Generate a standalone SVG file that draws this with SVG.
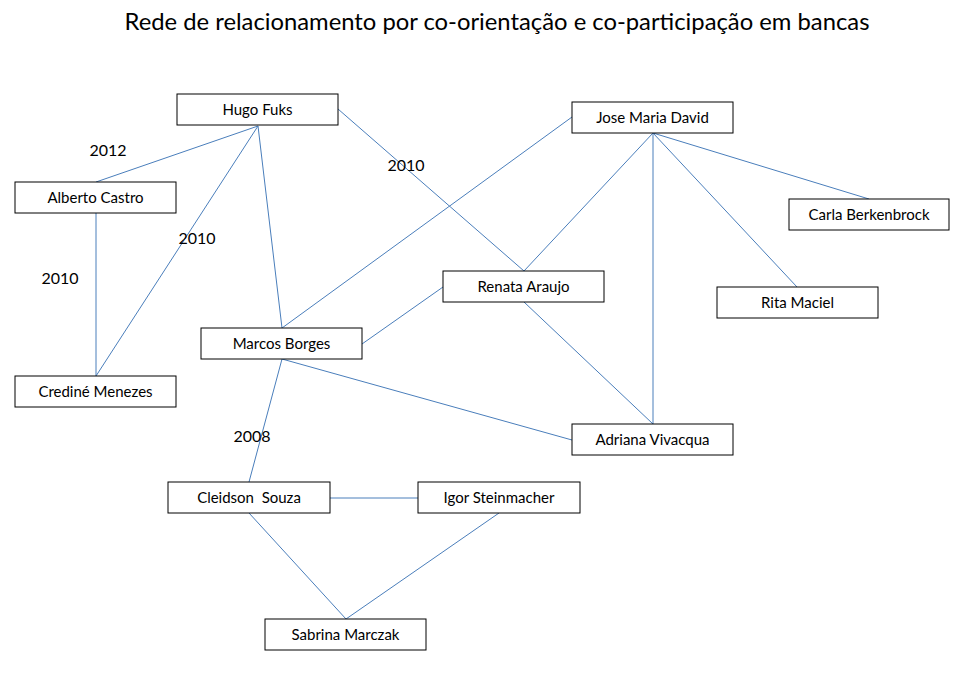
<svg xmlns="http://www.w3.org/2000/svg" width="977" height="681" viewBox="0 0 977 681">
<style>
.box{fill:#fff;stroke:#000;stroke-width:1}
.lbl{font-family:Lato,"Open Sans","Liberation Sans",sans-serif;font-size:15px;fill:#000;text-anchor:middle}
.yr{font-family:Lato,"Open Sans","Liberation Sans",sans-serif;font-size:16px;fill:#000;text-anchor:middle}
.title{font-family:Lato,"Open Sans","Liberation Sans",sans-serif;font-size:23.8px;fill:#000;text-anchor:middle}
#edges line{stroke:#4A7EBB;stroke-width:1}
</style>
<rect width="977" height="681" fill="#fff"/>
<text class="title" x="497" y="30">Rede de relacionamento por co-orientação e co-participação em bancas</text>
<g id="edges">
<line x1="258" y1="126" x2="96" y2="182"/>
<line x1="258" y1="126" x2="96" y2="376"/>
<line x1="258" y1="126" x2="282" y2="328"/>
<line x1="96" y1="213" x2="96" y2="376"/>
<line x1="338" y1="109" x2="524" y2="271"/>
<line x1="572" y1="117" x2="282" y2="328"/>
<line x1="653" y1="133" x2="524" y2="271"/>
<line x1="653" y1="133" x2="653" y2="424"/>
<line x1="653" y1="133" x2="869" y2="199"/>
<line x1="653" y1="133" x2="797" y2="287"/>
<line x1="443" y1="287" x2="362" y2="344"/>
<line x1="524" y1="302" x2="653" y2="424"/>
<line x1="282" y1="359" x2="572" y2="440"/>
<line x1="282" y1="359" x2="249" y2="482"/>
<line x1="329" y1="498" x2="418" y2="498"/>
<line x1="249" y1="513" x2="346" y2="619"/>
<line x1="499" y1="513" x2="346" y2="619"/>
</g>
<g id="years">
<text class="yr" x="108" y="156">2012</text>
<text class="yr" x="60" y="284">2010</text>
<text class="yr" x="197" y="244">2010</text>
<text class="yr" x="406" y="171">2010</text>
<text class="yr" x="252" y="442">2008</text>
</g>
<g id="hugo"><rect class="box" x="177" y="94" width="161" height="31"/><text class="lbl" x="257.5" y="115">Hugo Fuks</text></g>
<g id="alberto"><rect class="box" x="15" y="182" width="161" height="31"/><text class="lbl" x="95.5" y="203">Alberto Castro</text></g>
<g id="credine"><rect class="box" x="15" y="376" width="161" height="31"/><text class="lbl" x="95.5" y="397">Crediné Menezes</text></g>
<g id="marcos"><rect class="box" x="201" y="328" width="161" height="31"/><text class="lbl" x="281.5" y="349">Marcos Borges</text></g>
<g id="jose"><rect class="box" x="572" y="102" width="161" height="31"/><text class="lbl" x="652.5" y="123">Jose Maria David</text></g>
<g id="carla"><rect class="box" x="789" y="199" width="160" height="31"/><text class="lbl" x="869" y="220">Carla Berkenbrock</text></g>
<g id="rita"><rect class="box" x="717" y="287" width="161" height="31"/><text class="lbl" x="797.5" y="308">Rita Maciel</text></g>
<g id="renata"><rect class="box" x="443" y="271" width="161" height="31"/><text class="lbl" x="523.5" y="292">Renata Araujo</text></g>
<g id="adriana"><rect class="box" x="572" y="424" width="161" height="31"/><text class="lbl" x="652.5" y="445">Adriana Vivacqua</text></g>
<g id="cleidson"><rect class="box" x="168" y="482" width="162" height="31"/><text class="lbl" x="249" y="503" xml:space="preserve">Cleidson  Souza</text></g>
<g id="igor"><rect class="box" x="418" y="482" width="162" height="31"/><text class="lbl" x="499" y="503">Igor Steinmacher</text></g>
<g id="sabrina"><rect class="box" x="265" y="619" width="161" height="31"/><text class="lbl" x="345.5" y="640">Sabrina Marczak</text></g>
</svg>
